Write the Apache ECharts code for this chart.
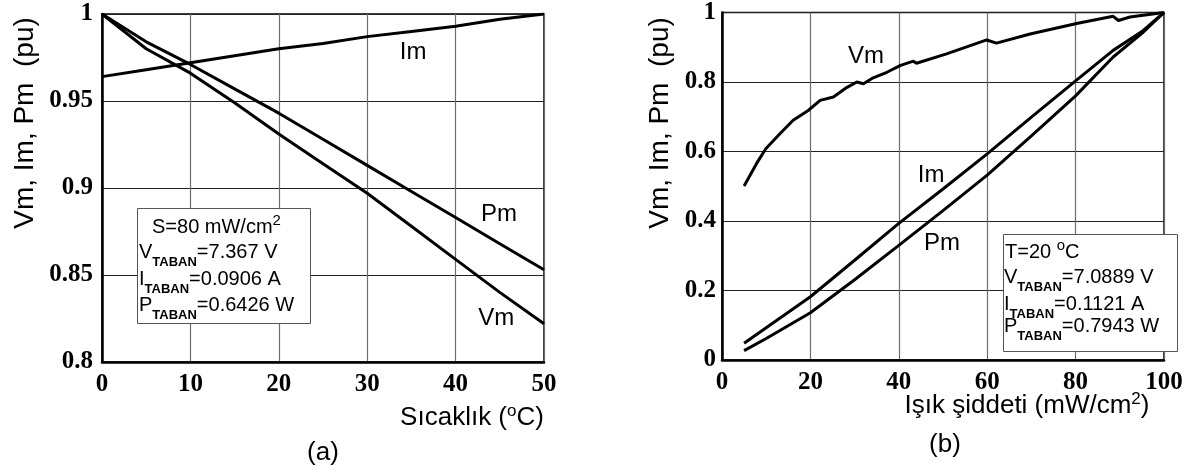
<!DOCTYPE html>
<html>
<head>
<meta charset="utf-8">
<script src="https://cdn.jsdelivr.net/npm/echarts@6/dist/echarts.min.js"></script>
<style>
html, body { margin: 0; padding: 0; background: #fff; }
#main { width: 1197px; height: 474px; }
</style>
</head>
<body>
<div id="main"></div>
<script>
// (a) sicakliga gore Vm, Im, Pm (pu)
var tempX = [0, 5, 10, 15, 20, 25, 30, 35, 40, 45, 50];
var tempIm = [0.964, 0.968, 0.972, 0.976, 0.980, 0.983, 0.987, 0.990, 0.993, 0.997, 1.0];
var tempPm = [1.0, 0.984, 0.971, 0.957, 0.943, 0.928, 0.913, 0.898, 0.883, 0.868, 0.853];
var tempVm = [1.0, 0.980, 0.966, 0.949, 0.931, 0.914, 0.897, 0.878, 0.859, 0.840, 0.822];

// (b) isik siddetine gore
var lightVmX = [5.0, 7.8, 9.9, 13.1, 16.1, 19.5, 22.2, 25.2, 28.2, 30.5, 32.0, 34.2, 37.3, 40.4, 43.3, 44.0, 50.8, 59.9, 62.1, 69.7, 80.5, 88.5, 89.7, 92.3, 100];
var lightVm = [0.501, 0.565, 0.608, 0.651, 0.690, 0.718, 0.747, 0.757, 0.784, 0.800, 0.795, 0.812, 0.828, 0.848, 0.860, 0.854, 0.881, 0.921, 0.912, 0.938, 0.969, 0.989, 0.977, 0.987, 1.0];
var lightX = [5, 10, 20, 30, 40, 50, 60, 70, 80, 88.5, 95, 100];
var lightIm = [0.048, 0.093, 0.182, 0.287, 0.393, 0.492, 0.593, 0.699, 0.803, 0.891, 0.945, 1.0];
var lightPm = [0.027, 0.062, 0.136, 0.231, 0.330, 0.430, 0.532, 0.645, 0.760, 0.872, 0.940, 1.0];

// tick ayarlari
var tempTicks = { min: 0, max: 50, interval: 10 };
var tempYTicks = { min: 0.8, max: 1, interval: 0.05 };
var lightTicks = { min: 0, max: 100, interval: 20 };
var lightYTicks = { min: 0, max: 1, interval: 0.2 };

var SANS = "'Liberation Sans', Arial, sans-serif";
var SERIF = "'Liberation Serif', 'Times New Roman', serif";

function pairs(xs, ys) {
	var d = [];
	for (var i = 0; i < xs.length; i++) {
		d.push([xs[i], ys[i]]);
	}
	return d;
}

function lineSeries(name, xi, data, lx, ly) {
	return {
		name: name,
		type: 'line',
		xAxisIndex: xi,
		yAxisIndex: xi,
		data: data,
		showSymbol: false,
		silent: true,
		lineStyle: { color: '#000', width: 3 },
		markPoint: {
			symbol: 'circle',
			symbolSize: 0,
			silent: true,
			label: {
				show: true,
				position: 'inside',
				formatter: name,
				color: '#000',
				fontFamily: SANS,
				fontSize: 24
			},
			data: [{ coord: [lx, ly] }]
		}
	};
}

function xAxis(gi, t) {
	return {
		type: 'value',
		gridIndex: gi,
		min: t.min,
		max: t.max,
		interval: t.interval,
		axisLine: { show: true, lineStyle: { color: '#000', width: 2.5 } },
		axisTick: { show: false },
		axisLabel: { color: '#000', fontFamily: SERIF, fontWeight: 'bold', fontSize: 25, margin: 10 },
		splitLine: { show: true, lineStyle: { color: '#6e6e6e', width: 1.2 } }
	};
}

function yAxis(gi, t, margin) {
	return {
		type: 'value',
		gridIndex: gi,
		min: t.min,
		max: t.max,
		interval: t.interval,
		axisLine: { show: true, lineStyle: { color: '#000', width: 2.5 } },
		axisTick: { show: false },
		axisLabel: { color: '#000', fontFamily: SERIF, fontWeight: 'bold', fontSize: 25, margin: margin },
		splitLine: { show: true, lineStyle: { color: '#222', width: 1 } }
	};
}

// rich metin stilleri (alt/ust simge)
var boxRich = {
	m: { fontFamily: SANS, fontSize: 20, fill: '#000', verticalAlign: 'middle' },
	s: { fontFamily: SANS, fontSize: 13, fontWeight: 'bold', fill: '#000', verticalAlign: 'bottom', padding: [20, 0, 0, 0] },
	u: { fontFamily: SANS, fontSize: 15, fill: '#000', verticalAlign: 'top', padding: [0, 0, 12, 0] }
};
var nameRich = {
	m: { fontFamily: SANS, fontSize: 26, fill: '#000', verticalAlign: 'middle' },
	u: { fontFamily: SANS, fontSize: 17, fill: '#000', verticalAlign: 'top', padding: [0, 0, 14, 0] }
};

function txt(x, y, text, rich, align) {
	return {
		type: 'text',
		x: x,
		y: y,
		z: 11,
		silent: true,
		style: { text: text, rich: rich, align: align || 'left', verticalAlign: 'middle', fill: '#000' }
	};
}

function plain(x, y, text, size, rot) {
	return {
		type: 'text',
		x: x,
		y: y,
		z: 11,
		rotation: rot || 0,
		silent: true,
		style: { text: text, font: size + 'px ' + SANS, align: 'center', verticalAlign: 'middle', fill: '#000' }
	};
}

var myChart = echarts.init(document.getElementById('main'));

var option = {
	backgroundColor: '#fff',
	animation: false,
	grid: [
		{ left: 102, top: 14, width: 442, height: 348, show: true, borderColor: '#000', borderWidth: 1.5 },
		{ left: 722, top: 12, width: 442, height: 348, show: true, borderColor: '#000', borderWidth: 1.5 }
	],
	xAxis: [xAxis(0, tempTicks), xAxis(1, lightTicks)],
	yAxis: [yAxis(0, tempYTicks, 9), yAxis(1, lightYTicks, 6)],
	series: [
		lineSeries('Im', 0, pairs(tempX, tempIm), 35.2, 0.978),
		lineSeries('Pm', 0, pairs(tempX, tempPm), 44.9, 0.885),
		lineSeries('Vm', 0, pairs(tempX, tempVm), 44.6, 0.825),
		lineSeries('Vm', 1, pairs(lightVmX, lightVm), 32.6, 0.874),
		lineSeries('Im', 1, pairs(lightX, lightIm), 47.3, 0.532),
		lineSeries('Pm', 1, pairs(lightX, lightPm), 49.8, 0.336)
	],
	graphic: [
		// eksen isimleri
		plain(25, 123, 'Vm, Im, Pm  (pu)', 28, Math.PI / 2),
		plain(660, 123, 'Vm, Im, Pm  (pu)', 28, Math.PI / 2),
		txt(472, 418, '{m|Sıcaklık (}{u|o}{m|C)}', nameRich, 'center'),
		txt(1027, 406, '{m|Işık şiddeti (mW/cm}{u|2}{m|)}', nameRich, 'center'),
		plain(323, 453, '(a)', 26),
		plain(945, 445, '(b)', 26),
		// (a) bilgi kutusu
		{
			type: 'rect',
			silent: true,
			shape: { x: 137.5, y: 208.5, width: 173, height: 115 },
			style: { fill: '#fff', stroke: '#555', lineWidth: 1 },
			z: 10
		},
		txt(152, 227, '{m|S=80 mW/cm}{u|2}', boxRich),
		txt(139, 252, '{m|V}{s|TABAN}{m|=7.367 V}', boxRich),
		txt(139, 279, '{m|I}{s|TABAN}{m|=0.0906 A}', boxRich),
		txt(139, 305, '{m|P}{s|TABAN}{m|=0.6426 W}', boxRich),
		// (b) bilgi kutusu
		{
			type: 'rect',
			silent: true,
			shape: { x: 1003.5, y: 234.5, width: 174, height: 117 },
			style: { fill: '#fff', stroke: '#555', lineWidth: 1 },
			z: 10
		},
		txt(1005, 252, '{m|T=20 }{u|o}{m|C}', boxRich),
		txt(1004, 277, '{m|V}{s|TABAN}{m|=7.0889 V}', boxRich),
		txt(1004, 304, '{m|I}{s|TABAN}{m|=0.1121 A}', boxRich),
		txt(1004, 326, '{m|P}{s|TABAN}{m|=0.7943 W}', boxRich)
	]
};

myChart.setOption(option);
</script>
</body>
</html>
